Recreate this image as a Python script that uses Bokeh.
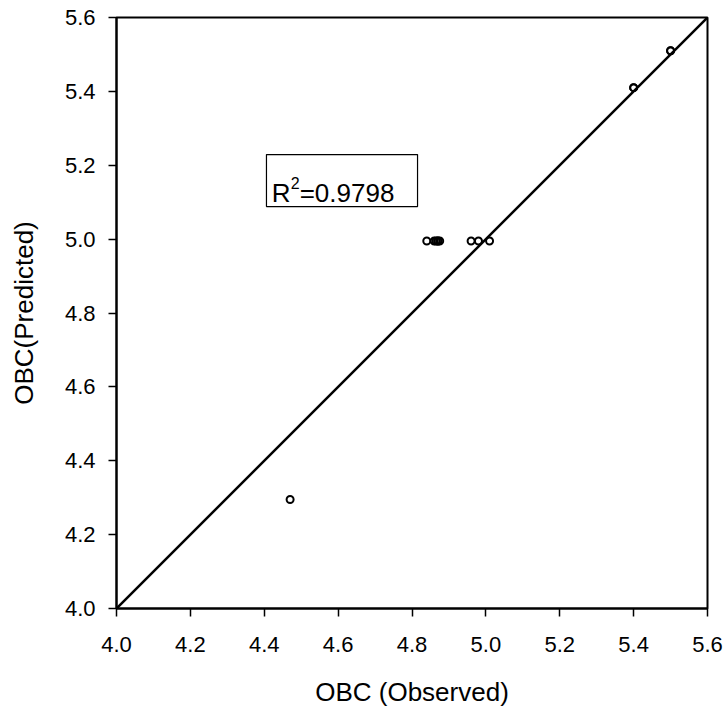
from bokeh.plotting import figure
from bokeh.models import Range1d, FixedTicker, PrintfTickFormatter, Label, BoxAnnotation
from bokeh.embed import file_html
from bokeh.resources import INLINE

# ---- data ----
observed = [4.47, 4.84, 4.86, 4.865, 4.87, 4.87, 4.875, 4.96, 4.98, 5.01, 5.40, 5.40, 5.50, 5.50]
predicted = [4.295, 4.995, 4.995, 4.995, 4.995, 4.995, 4.995, 4.995, 4.995, 4.995, 5.41, 5.41, 5.51, 5.51]
line_x = [4.0, 5.6]
line_y = [4.0, 5.6]
ticks = [4.0, 4.2, 4.4, 4.6, 4.8, 5.0, 5.2, 5.4, 5.6]
r2_parts = ["R", "2", "=0.9798"]

FONT = "Liberation Sans"

p = figure(width=727, height=713, x_range=Range1d(4.0, 5.6), y_range=Range1d(4.0, 5.6),
           output_backend="svg", toolbar_location=None,
           min_border_left=116, min_border_right=20, min_border_top=17, min_border_bottom=105)

p.grid.visible = False
p.outline_line_color = "black"
p.outline_line_width = 2
p.outline_line_alpha = 1.0
p.background_fill_color = "white"
p.border_fill_color = "white"

for ax in (p.xaxis[0], p.yaxis[0]):
    ax.ticker = FixedTicker(ticks=ticks)
    ax.formatter = PrintfTickFormatter(format="%.1f")
    ax.axis_line_width = 2
    ax.axis_line_color = "black"
    ax.major_tick_line_width = 1.5
    ax.major_tick_line_color = "black"
    ax.major_tick_out = 8
    ax.major_tick_in = 0
    ax.minor_tick_line_color = None
    ax.major_label_text_font = FONT
    ax.major_label_text_font_size = "22px"
    ax.major_label_text_color = "black"
    ax.axis_label_text_font = FONT
    ax.axis_label_text_font_size = "26px"
    ax.axis_label_text_font_style = "normal"
    ax.axis_label_text_color = "black"

p.xaxis.axis_label = "OBC (Observed)"
p.yaxis.axis_label = "OBC(Predicted)"
p.yaxis.major_label_standoff = 13
p.xaxis.major_label_standoff = 20
p.yaxis.axis_label_standoff = 23
p.xaxis.axis_label_standoff = 22

p.line(line_x, line_y, line_color="black", line_width=2.5)
p.scatter(observed, predicted, marker="circle", size=7, fill_color=None,
          line_color="black", line_width=2)

box = BoxAnnotation(left=4.406, right=4.815, bottom=5.088, top=5.229,
                    fill_color="white", fill_alpha=1.0, line_color="black",
                    line_alpha=1.0, line_width=1.2)
p.add_layout(box)

tx, ty = 4.42, 5.124
p.add_layout(Label(x=tx, y=ty, text=r2_parts[0], text_font=FONT, text_font_size="26px",
                   text_color="black", text_baseline="alphabetic", text_align="left"))
p.add_layout(Label(x=tx, y=ty, x_offset=19, y_offset=10, text=r2_parts[1], text_font=FONT,
                   text_font_size="16px", text_color="black", text_baseline="alphabetic",
                   text_align="left"))
p.add_layout(Label(x=tx, y=ty, x_offset=28, text=r2_parts[2], text_font=FONT, text_font_size="26px",
                   text_color="black", text_baseline="alphabetic", text_align="left"))

open("out.html", "w").write(file_html(p, INLINE))
